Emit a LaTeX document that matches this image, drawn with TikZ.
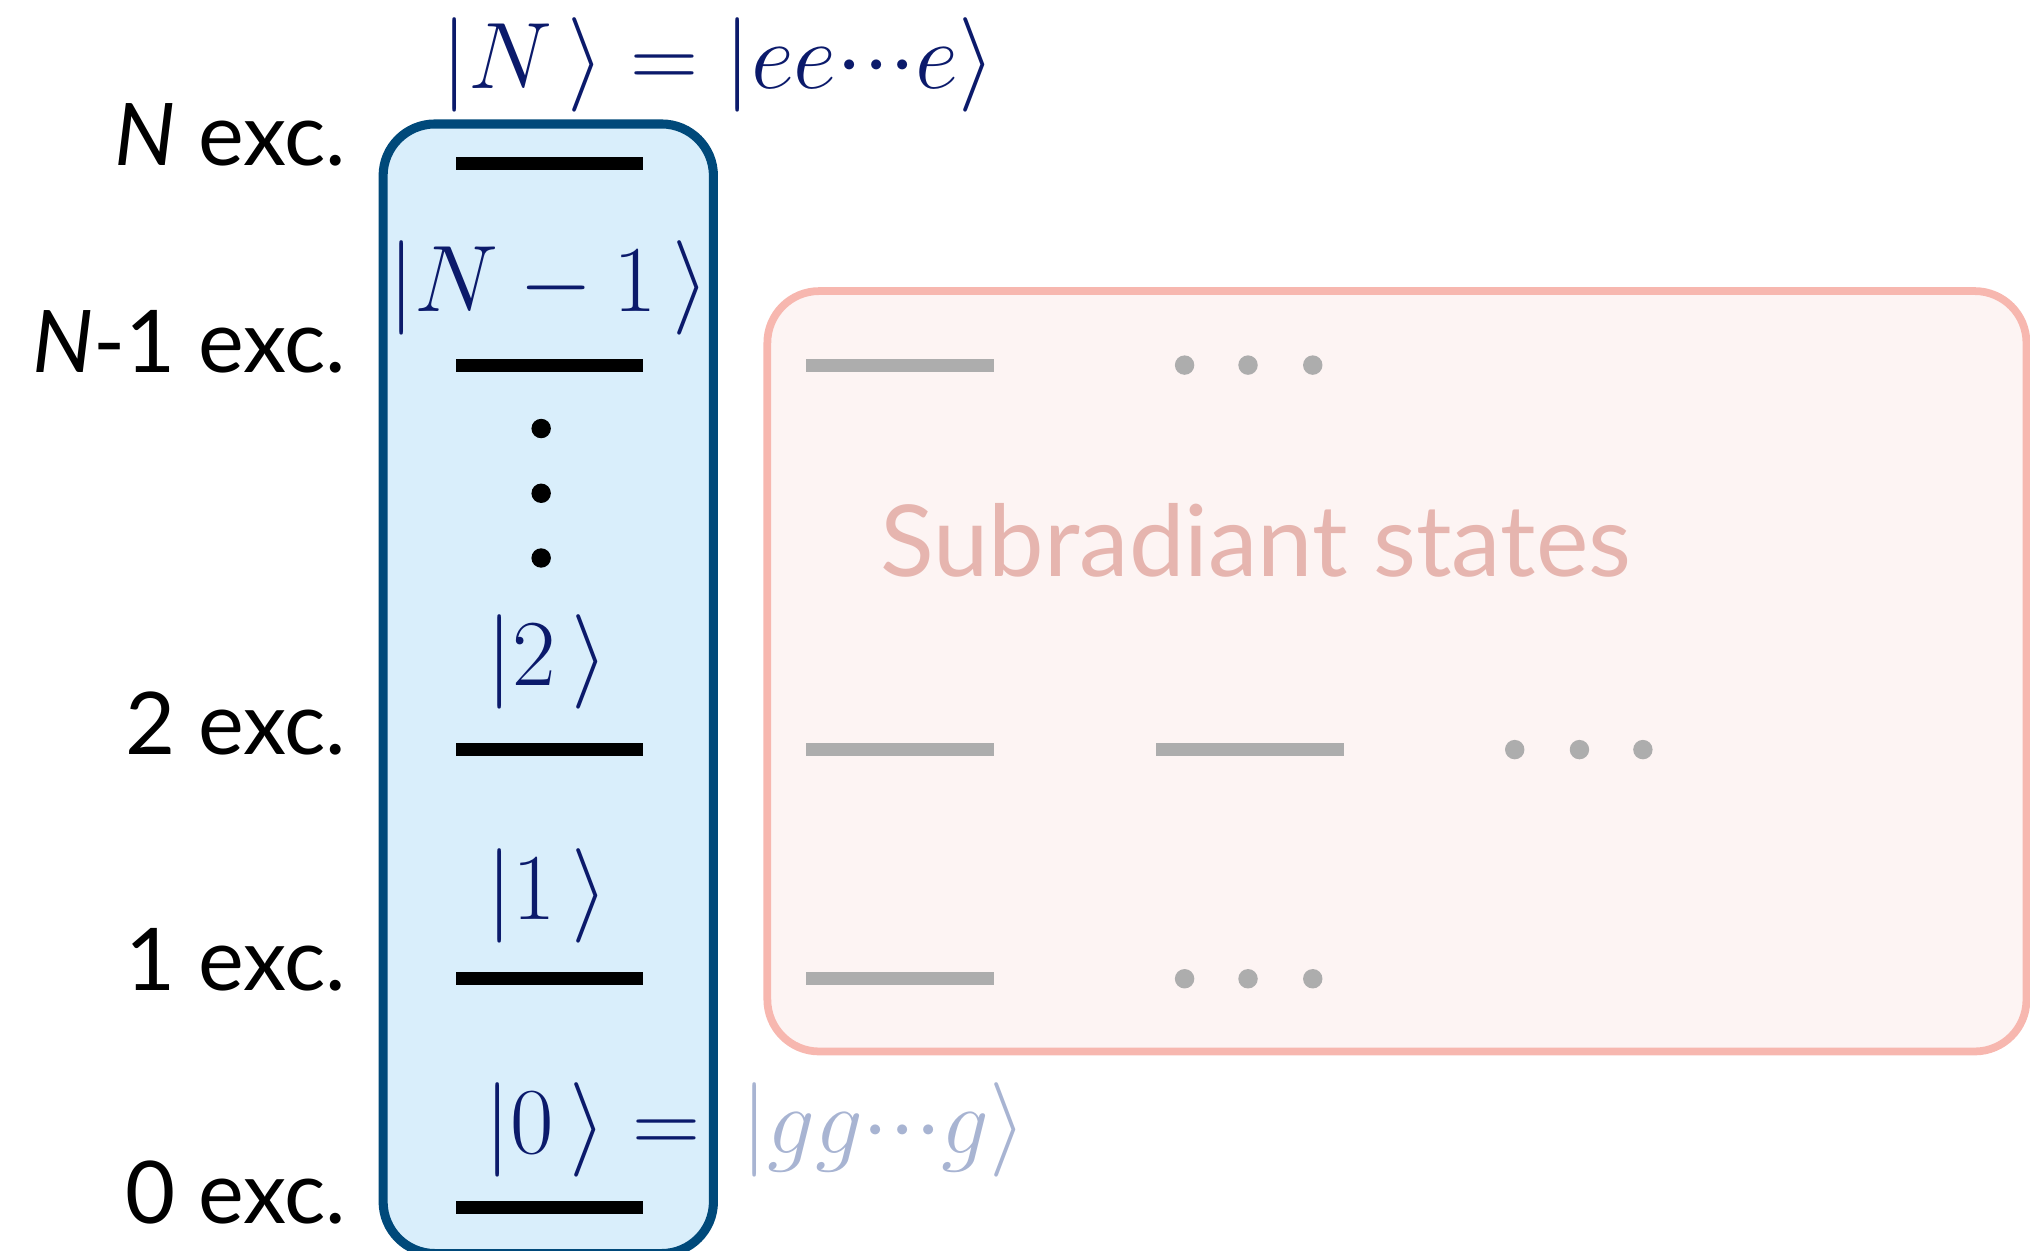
\documentclass[tikz,border=0pt]{standalone}
\usepackage{fontspec}
\setsansfont{Lato}
\usetikzlibrary{positioning}
\definecolor{boxblue}{HTML}{00497A}
\definecolor{fillblue}{HTML}{D9EEFB}
\definecolor{ketnavy}{HTML}{0B1A6B}
\definecolor{ketgrey}{HTML}{A8B4D2}
\definecolor{boxpink}{HTML}{F7B7AF}
\definecolor{fillpink}{HTML}{FDF4F3}
\definecolor{lvlgrey}{HTML}{ADADAD}
\definecolor{subtext}{HTML}{E6B5AF}
\begin{document}
\begin{tikzpicture}[x=0.01cm,y=-0.01cm]
    \tikzstyle{lvl} = [rectangle, fill=black, minimum width=1.45cm,
        minimum height=0.1cm, inner sep=0pt]
    \tikzstyle{sublvl} = [lvl, fill=lvlgrey]
    \tikzstyle{exc} = [anchor=base east, inner sep=0pt,
        font=\sffamily\fontsize{19}{19}\selectfont]
    \tikzstyle{ket} = [text=ketnavy, font=\fontsize{22}{22}\selectfont, inner sep=0pt]
    \tikzstyle{gdot} = [circle, fill=lvlgrey, minimum size=0.15cm, inner sep=0pt]

    \useasboundingbox (0,0) rectangle (1568,966);

    % boxes
    \node (sym) [rectangle, rounded corners=0.4cm, draw=boxblue, line width=0.07cm,
        fill=fillblue, minimum width=2.55cm, minimum height=8.72cm] at (423.5,532) {};
    \node (sub) [rectangle, rounded corners=0.4cm, draw=boxpink, line width=0.06cm,
        fill=fillpink, minimum width=9.72cm, minimum height=5.87cm] at (1079,518.5) {};

    % symmetric ladder
    \node (lN) [lvl] at (424.5,126) {};
    \node (lNm) [lvl] at (424.5,282) {};
    \node (l2) [lvl] at (424.5,579) {};
    \node (l1) [lvl] at (424.5,756) {};
    \node (l0) [lvl] at (424.5,933) {};

    \foreach \y in {331,381,431}
        \fill (418,\y) circle (0.075cm);

    \node (eN) [exc] at (268,128) {\textit{N} exc.};
    \node (eNm) [exc] at (268,288) {\textit{N}-1 exc.};
    \node (e2) [exc] at (268,583) {2 exc.};
    \node (e1) [exc] at (268,765) {1 exc.};
    \node (e0) [exc] at (268,945) {0 exc.};

    \node (kN) [ket] at (555,50) {$|N\,\rangle = |ee{\cdot}{\cdot}{\cdot}e\rangle$};
    \node (kNm) [ket] at (424,222) {$|N-1\,\rangle$};
    \node (k2) [ket] at (423,511) {$|2\,\rangle$};
    \node (k1) [ket] at (423,692) {$|1\,\rangle$};
    \node (k0) [ket, anchor=east] at (542,873) {$|0\,\rangle =$};
    \node (kg) [ket, text=ketgrey, anchor=west] at (572,873)
        {$|gg{\cdot}{\cdot}{\cdot}g\rangle$};

    % subradiant levels
    \node (s3) [sublvl] at (695,282) {};
    \node (s2a) [sublvl] at (695,579) {};
    \node (s2b) [sublvl] at (965.5,579) {};
    \node (s1) [sublvl] at (695,756) {};
    \foreach \x in {915,964,1014} {
        \node [gdot] at (\x,282) {};
        \node [gdot] at (\x,756) {};
    }
    \foreach \x in {1170,1220,1269}
        \node [gdot] at (\x,579) {};

    \node (lbl) [text=subtext, font=\sffamily\fontsize{21.8}{22}\selectfont]
        at (970,417) {Subradiant states};
\end{tikzpicture}
\end{document}
